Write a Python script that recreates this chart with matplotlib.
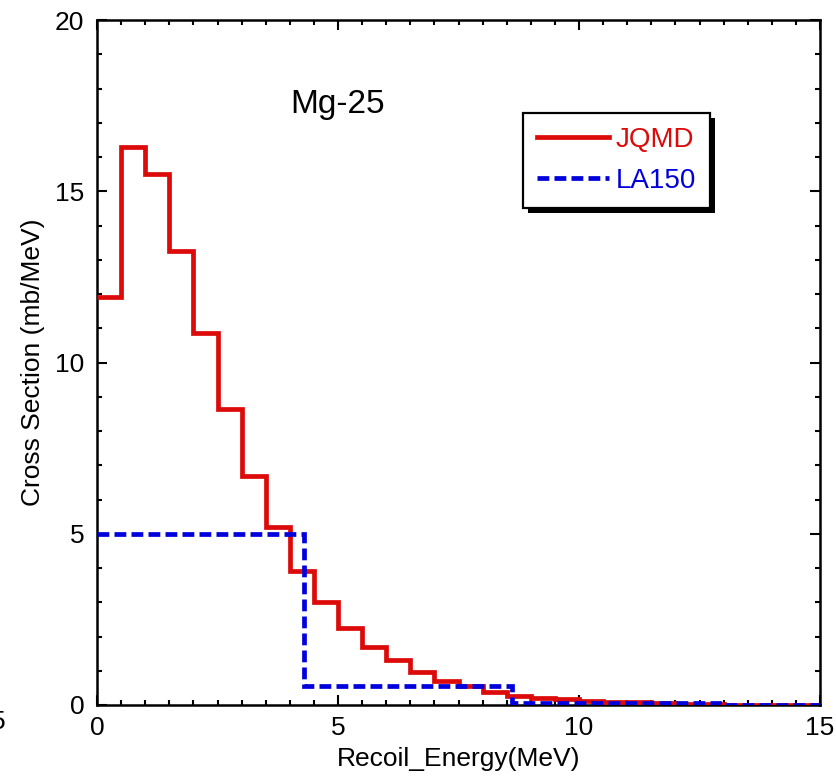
import matplotlib
matplotlib.use("Agg")
import matplotlib.pyplot as plt
from matplotlib.patches import Rectangle
from matplotlib.ticker import MultipleLocator
import numpy as np

plt.rcParams['font.family'] = ['Liberation Sans', 'DejaVu Sans']

# JQMD histogram: 0.5 MeV bins from 0 to 15 MeV
jqmd_edges = np.arange(0, 15.01, 0.5)
jqmd_values = [11.9, 16.3, 15.5, 13.25, 10.85, 8.65, 6.7, 5.2, 3.9, 3.0,
               2.25, 1.7, 1.3, 0.95, 0.7, 0.55, 0.38, 0.27, 0.2, 0.17,
               0.12, 0.1, 0.08, 0.06, 0.04, 0.03, 0.0, 0.0, 0.0, 0.0]

# LA150 histogram
la150_edges = [0, 4.3, 8.6, 12.9, 15]
la150_values = [5.0, 0.55, 0.06, 0.01]

series_labels = ['JQMD', 'LA150']
title_text = 'Mg-25'
xlabel = 'Recoil_Energy(MeV)'
ylabel = 'Cross Section (mb/MeV)'

RED = '#dd0a0a'
BLUE = '#0000dd'

fig = plt.figure(figsize=(8.37, 7.81), dpi=100)
ax = fig.add_axes([97/837, 1-705/781, (820-97)/837, (705-20)/781])

ax.stairs(jqmd_values, jqmd_edges, baseline=None, color=RED, lw=3.4,
          label=series_labels[0], zorder=3)
ax.stairs(la150_values, la150_edges, baseline=None, color=BLUE, lw=3.4,
          linestyle=(0, (2.5, 1.1)), label=series_labels[1], zorder=3)

ax.set_xlim(0, 15)
ax.set_ylim(0, 20)
ax.xaxis.set_major_locator(MultipleLocator(5))
ax.xaxis.set_minor_locator(MultipleLocator(0.5))
ax.yaxis.set_major_locator(MultipleLocator(5))
ax.yaxis.set_minor_locator(MultipleLocator(1))
ax.tick_params(which='both', direction='in', top=True, right=True, width=1.5,
               labelsize=19)
ax.tick_params(which='major', length=7)
ax.tick_params(which='minor', length=3.5)
ax.tick_params(axis='x', which='major', pad=8)
ax.tick_params(axis='y', which='major', pad=9)
for s in ax.spines.values():
    s.set_linewidth(1.8)

ax.set_xlabel(xlabel, fontsize=19, labelpad=5)
ax.set_ylabel(ylabel, fontsize=19, labelpad=7)

ax.text((338-97)/723, (705-105)/685, title_text, transform=ax.transAxes,
        fontsize=24, ha='center', va='center')

leg = ax.legend(loc='upper left', bbox_to_anchor=((523-97)/723, (705-113)/685),
                borderaxespad=0, fontsize=20, handlelength=2.6,
                handletextpad=0.25, labelspacing=0.55, borderpad=0.5,
                fancybox=False, framealpha=1, edgecolor='black',
                labelcolor='linecolor')
leg.get_frame().set_linewidth(1.6)
leg.set_zorder(6)

fig.canvas.draw()
bb = leg.get_window_extent()
shadow = Rectangle((bb.x0 + 5, bb.y0 - 5), bb.width, bb.height,
                   transform=None, facecolor='black', edgecolor='none',
                   zorder=5.5)
ax.add_artist(shadow)

fig.text(-9/837, 1-722/781, '5', fontsize=19, ha='left', va='center')

fig.savefig('out.png', dpi=100)
